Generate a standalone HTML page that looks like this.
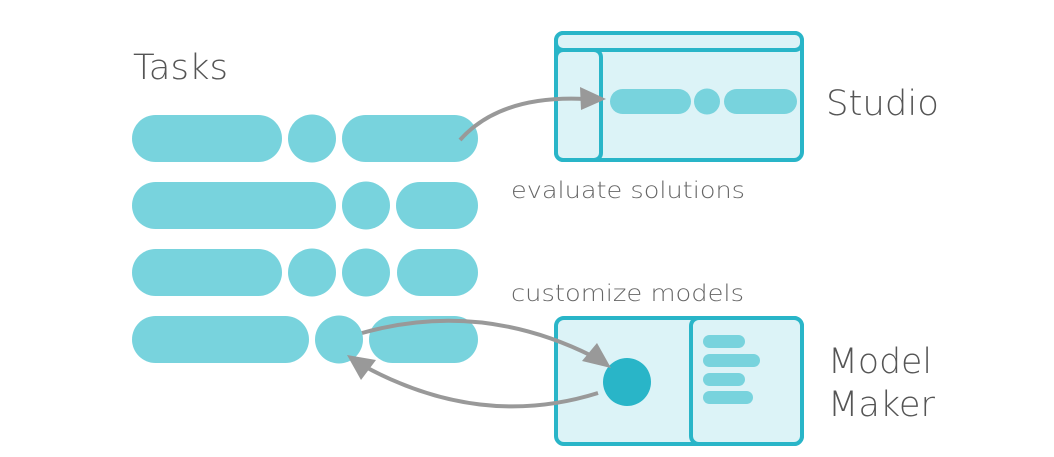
<!DOCTYPE html>
<html><head><style>html,body{margin:0;padding:0;background:#fff;}svg{display:block}</style></head>
<body>
<svg width="1054" height="457" viewBox="0 0 1054 457" xmlns="http://www.w3.org/2000/svg" font-family="DejaVu Sans, Liberation Sans, sans-serif" font-weight="200">
<g fill="#78d3dd">
<rect x="132" y="115" width="150" height="47" rx="23.5"/><circle cx="312" cy="138.5" r="24"/><rect x="342" y="115" width="136" height="47" rx="23.5"/>
<rect x="132" y="182" width="204" height="47" rx="23.5"/><circle cx="366" cy="205.5" r="24"/><rect x="396" y="182" width="82" height="47" rx="23.5"/>
<rect x="132" y="249" width="150" height="47" rx="23.5"/><circle cx="312" cy="272.5" r="24"/><circle cx="366" cy="272.5" r="24"/><rect x="397" y="249" width="81" height="47" rx="23.5"/>
<rect x="132" y="316" width="177" height="47" rx="23.5"/><circle cx="339" cy="339.5" r="24"/><rect x="369" y="316" width="109" height="47" rx="23.5"/>
</g>
<g stroke="#29b5c8" stroke-width="4" fill="#dcf3f7">
<rect x="556" y="33" width="246" height="127" rx="8"/>
<rect x="556" y="33" width="246" height="17" rx="7"/>
<rect x="556" y="50" width="45" height="110" rx="7"/>
<rect x="556" y="318" width="246" height="126" rx="8"/>
<rect x="691" y="318" width="111" height="126" rx="8"/>
</g>
<g fill="#78d3dd">
<rect x="610" y="89" width="81" height="25" rx="12.5"/><circle cx="707" cy="101.5" r="13"/><rect x="724" y="89" width="73" height="25" rx="12.5"/>
<rect x="703" y="335" width="42" height="13" rx="6.5"/><rect x="703" y="354" width="57" height="13" rx="6.5"/><rect x="703" y="373" width="42" height="13" rx="6.5"/><rect x="703" y="391" width="50" height="13" rx="6.5"/>
</g>
<circle cx="627" cy="382" r="24" fill="#29b5c8"/>
<g stroke="#999" stroke-width="4" fill="none">
<path d="M460 140 Q500 95 585 99"/>
<path d="M362 333 Q480 300 592 356"/>
<path d="M598 393 Q480 430 362 365"/>
</g>
<g fill="#999">
<polygon points="606,99 580,87 581,110"/>
<polygon points="611,368 582,361 597,343"/>
<polygon points="347,355 376,360 361,380"/>
</g>
<g fill="#555" font-size="35">
<text x="133" y="79" textLength="95" lengthAdjust="spacingAndGlyphs">Tasks</text>
<text x="826" y="115" textLength="113" lengthAdjust="spacingAndGlyphs">Studio</text>
<text x="828" y="373" textLength="104" lengthAdjust="spacingAndGlyphs">Model</text>
<text x="828" y="416" textLength="107" lengthAdjust="spacingAndGlyphs">Maker</text>
</g>
<g fill="#666" font-size="23">
<text x="511" y="198" textLength="234" lengthAdjust="spacingAndGlyphs">evaluate solutions</text>
<text x="511" y="301" textLength="233" lengthAdjust="spacingAndGlyphs">customize models</text>
</g>
</svg>
</body></html>
